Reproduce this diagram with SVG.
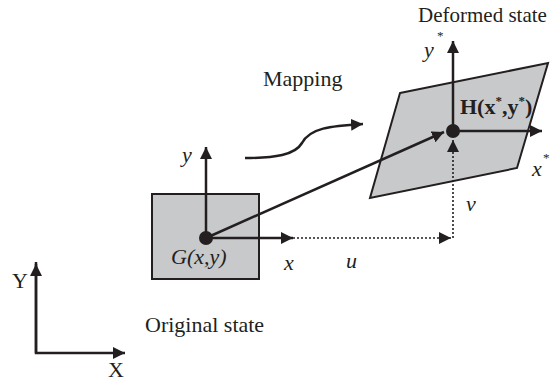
<svg xmlns="http://www.w3.org/2000/svg" width="550" height="383" viewBox="0 0 550 383">
<style>
.ln{stroke:#231f20;stroke-width:2.5;fill:none}
.dot{stroke:#231f20;stroke-width:1.6;stroke-dasharray:2 2;fill:none}
.sh{fill:#c8c9cb;stroke:#231f20;stroke-width:2}
.t{font-family:"Liberation Serif",serif;font-size:22px;fill:#231f20}
.i{font-style:italic}
.s{font-size:13px}
.d{font-size:21px}
</style>
<defs>
<marker id="ah" viewBox="0 0 10 10" refX="10" refY="5" markerWidth="12" markerHeight="12" markerUnits="userSpaceOnUse" orient="auto">
<path d="M0,0 L10,5 L0,10 z" fill="#231f20"/>
</marker>
</defs>
<rect width="550" height="383" fill="#fff"/>
<g id="original">
<rect class="sh" x="152" y="194" width="107" height="85"/>
<text class="t i" x="171" y="264">G(x,y)</text>
</g>
<g id="deformed">
<polygon class="sh" points="400,93 548,63 517,168 370,198"/>
<text class="t" x="460" y="114" font-weight="bold">H(x<tspan class="s" dy="-9">*</tspan><tspan dy="9">,y</tspan><tspan class="s" dy="-9">*</tspan><tspan dy="9">)</tspan></text>
</g>
<g id="connectors">
<line class="ln" x1="206" y1="238" x2="206" y2="147" marker-end="url(#ah)"/>
<line class="ln" x1="206" y1="238" x2="293" y2="238" marker-end="url(#ah)"/>
<line class="dot" x1="293" y1="238" x2="451" y2="238" marker-end="url(#ah)"/>
<line class="dot" x1="453" y1="238" x2="453" y2="140" marker-end="url(#ah)"/>
<line class="ln" x1="206" y1="238" x2="444" y2="132" marker-end="url(#ah)"/>
<line class="ln" x1="453" y1="131" x2="453" y2="41" marker-end="url(#ah)"/>
<line class="ln" x1="453" y1="131" x2="542" y2="131" marker-end="url(#ah)"/>
<path class="ln" d="M245,158 C275,158 295,155 302,143 C310,128 330,126 363,124" marker-end="url(#ah)"/>
<polyline class="ln" points="36,262 36,353 125,353" marker-end="url(#ah)"/>
<line class="ln" x1="36" y1="353" x2="36" y2="264" marker-end="url(#ah)"/>
</g>
<circle cx="206" cy="238" r="7" fill="#231f20"/>
<circle cx="453" cy="131" r="7" fill="#231f20"/>
<g id="labels">
<text class="t i" x="182" y="162">y</text>
<text class="t i" x="284" y="270">x</text>
<text class="t i" x="346" y="268">u</text>
<text class="t i" x="466" y="211">v</text>
<text class="t" x="263" y="86">Mapping</text>
<text class="t d" x="418" y="22">Deformed state</text>
<text class="t i" x="424" y="57">y</text>
<text class="t s" x="437" y="40">*</text>
<text class="t i" x="532" y="176">x</text>
<text class="t s" x="543" y="162">*</text>
<text class="t" x="12" y="288">Y</text>
<text class="t" x="108" y="377">X</text>
<text class="t" x="145" y="332">Original state</text>
</g>
</svg>
